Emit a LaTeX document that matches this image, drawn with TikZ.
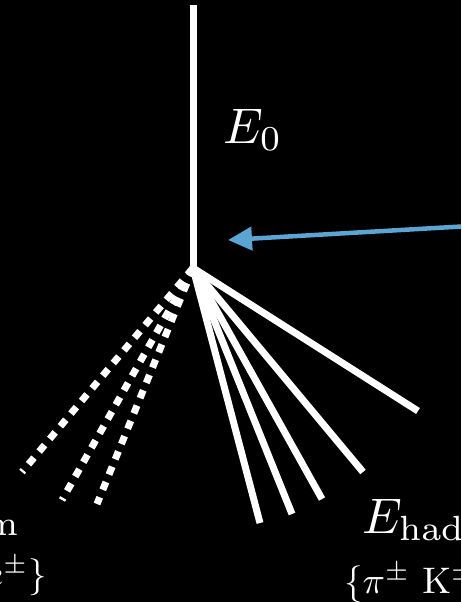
\documentclass[tikz,border=0pt]{standalone}
\usetikzlibrary{arrows.meta}
\definecolor{arrowblue}{RGB}{92,164,210}
\newcommand{\biglab}[1]{\scalebox{5}{#1}}
\newcommand{\smalllab}[1]{\scalebox{3.7}{#1}}
\begin{document}
\begin{tikzpicture}[x=1pt,y=-1pt,
  track/.style={draw=white,line width=7pt,line cap=butt},
  emtrack/.style={draw=white,line width=7pt,line cap=butt,dash pattern=on 8.5pt off 8pt},
  labeltext/.style={text=white,inner sep=0pt},
  pointer/.style={draw=arrowblue,line width=4.5pt,-{Triangle[length=24pt,width=23pt]}}]
\fill[black] (0,0) rectangle (461,602);
\useasboundingbox (0,0) rectangle (461,602);
\clip (0,0) rectangle (461,602);
% vertex and ends
\coordinate (v) at (193,268);
\coordinate (top) at (193,5);
\coordinate (h1) at (418,411);
\coordinate (h2) at (363,472);
\coordinate (h3) at (322,499);
\coordinate (h4) at (292,514);
\coordinate (h5) at (260,523);
\coordinate (e1) at (22,472);
\coordinate (e2) at (62,500);
\coordinate (e3) at (97,504);
\coordinate (a0) at (470,226);
\coordinate (a1) at (228,240);
% primary
\draw[track] (top) -- (v);
% hadronic
\foreach \n in {h1,h2,h3,h4,h5} \draw[track] (v) -- (\n);
% electromagnetic
\foreach \n in {e1,e2,e3} \draw[emtrack] (v) -- (\n);
% arrow
\draw[pointer] (a0) -- (a1);
% labels
\node[labeltext,anchor=base west] (E0) at (223,143) {\biglab{$E_0$}};
\node[labeltext,anchor=base west] (Ehad) at (362,533) {\biglab{$E_{\mathrm{had}}$}};
\node[labeltext,anchor=base west] (had) at (344,593) {\smalllab{$\{\pi^{\pm}\ \mathrm{K}^{\pm}\}$}};
\node[labeltext,anchor=base east] (Eem) at (21,528) {\biglab{$E_{\mathrm{em}}$}};
\node[labeltext,anchor=base east] (em) at (47,586) {\smalllab{$\{\gamma\ e^{\pm}\}$}};
\end{tikzpicture}
\end{document}
